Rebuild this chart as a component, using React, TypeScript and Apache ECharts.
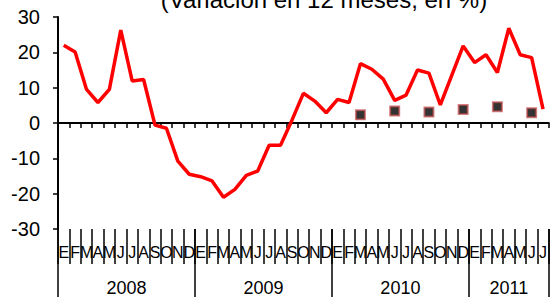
import React, { useEffect, useRef } from "react";
import * as echarts from "echarts";

const monthLetters = ["E", "F", "M", "A", "M", "J", "J", "A", "S", "O", "N", "D"];
const years = ["2008", "2009", "2010", "2011"];
const monthsInLastYear = 7;

// Variación en 12 meses (%), monthly Jan 2008 – Jul 2011
const inflation = [
  22.0, 20.1, 9.5, 5.8, 9.5, 26.3, 11.9, 12.3, -0.6, -1.5, -10.8, -14.5,
  -15.2, -16.4, -21.0, -18.8, -14.8, -13.6, -6.3, -6.3, 0.8, 8.4, 6.2, 2.9,
  6.7, 5.8, 16.8, 15.2, 12.4, 6.4, 7.9, 15.0, 14.1, 5.1, 13.5, 21.8,
  17.1, 19.3, 14.3, 26.8, 19.3, 18.5, 3.9,
];

// Quarterly points (black squares)
const quarterMonths = ["2010-03", "2010-06", "2010-09", "2010-12", "2011-03", "2011-06"];
const quarterValues = [2.3, 3.4, 3.1, 3.8, 4.6, 2.9];

const yTicks = { min: -30, max: 30, interval: 10 };
const titleText = "(Variación en 12 meses, en %)";

const FONT = "'Liberation Sans', Arial, sans-serif";

export default function App() {
  const ref = useRef<HTMLDivElement>(null);

  useEffect(() => {
    if (!ref.current) return;
    const chart = echarts.init(ref.current, null, { renderer: "svg" });

    const categories: string[] = [];
    years.forEach((y, yi) => {
      const n = yi === years.length - 1 ? monthsInLastYear : 12;
      for (let m = 0; m < n; m++) {
        categories.push(`${y}-${String(m + 1).padStart(2, "0")}`);
      }
    });

    const black = "#000";

    chart.setOption({
      animation: false,
      textStyle: { fontFamily: FONT },
      grid: { left: 58, right: -3, top: 17, bottom: 68, containLabel: false },
      xAxis: [
        {
          type: "category",
          data: categories,
          position: "bottom",
          boundaryGap: true,
          axisLine: { show: true, onZero: true, lineStyle: { color: black, width: 2 } },
          axisTick: { show: true, interval: 0, length: 5, lineStyle: { color: black, width: 1.5 } },
          axisLabel: { show: false },
          splitLine: { show: false },
        },
        {
          type: "category",
          data: categories,
          position: "bottom",
          boundaryGap: true,
          axisLine: { show: false, onZero: false },
          axisTick: { show: true, interval: 0, length: 35, lineStyle: { color: black, width: 1.5 } },
          axisLabel: {
            show: true,
            interval: 0,
            margin: 15,
            fontSize: 16,
            fontFamily: FONT,
            color: black,
            formatter: (v: string) => monthLetters[parseInt(v.slice(5), 10) - 1],
          },
          splitLine: { show: false },
        },
        {
          type: "category",
          data: categories,
          position: "bottom",
          boundaryGap: true,
          axisLine: { show: false, onZero: false },
          axisTick: {
            show: true,
            interval: (i: number) => i % 12 === 0,
            length: 68,
            lineStyle: { color: black, width: 1.5 },
          },
          axisLabel: { show: false },
          splitLine: { show: false },
        },
      ],
      yAxis: {
        type: "value",
        min: yTicks.min,
        max: yTicks.max,
        interval: yTicks.interval,
        axisLine: { show: true, onZero: false, lineStyle: { color: black, width: 2 } },
        axisTick: { show: true, length: 5, lineStyle: { color: black, width: 1.5 } },
        axisLabel: { fontSize: 20, color: black, margin: 18, fontFamily: FONT },
        splitLine: { show: false },
      },
      series: [
        {
          type: "line",
          xAxisIndex: 0,
          data: inflation,
          symbol: "none",
          lineStyle: { color: "#ff0000", width: 3.5 },
          z: 3,
        },
        {
          type: "scatter",
          xAxisIndex: 0,
          data: quarterMonths.map((m, i) => [m, quarterValues[i]]),
          symbol: "rect",
          symbolSize: 9,
          itemStyle: { color: "#000", borderColor: "rgba(190,70,70,0.85)", borderWidth: 2 },
          z: 4,
        },
      ],
    });

    // Year labels centred on their span, positioned via the axis scale
    const yearGraphics = years.map((y, yi) => {
      const startIdx = yi * 12;
      const endIdx = Math.min(startIdx + 11, categories.length - 1);
      const x0 = chart.convertToPixel({ xAxisIndex: 0 }, categories[startIdx]) as number;
      const x1 = chart.convertToPixel({ xAxisIndex: 0 }, categories[endIdx]) as number;
      return {
        type: "text",
        x: (x0 + x1) / 2,
        y: 288,
        style: {
          text: y,
          font: `18px ${FONT}`,
          fill: black,
          textAlign: "center",
          textVerticalAlign: "middle",
        },
      };
    });

    chart.setOption({
      graphic: [
        {
          type: "text",
          x: 324,
          y: -1,
          style: {
            text: titleText,
            font: `24px ${FONT}`,
            fill: black,
            textAlign: "center",
            textVerticalAlign: "middle",
          },
        },
        ...yearGraphics,
      ],
    });

    return () => chart.dispose();
  }, []);

  return <div ref={ref} style={{ width: 550, height: 297, position: "absolute", left: 0, top: 0 }} />;
}
